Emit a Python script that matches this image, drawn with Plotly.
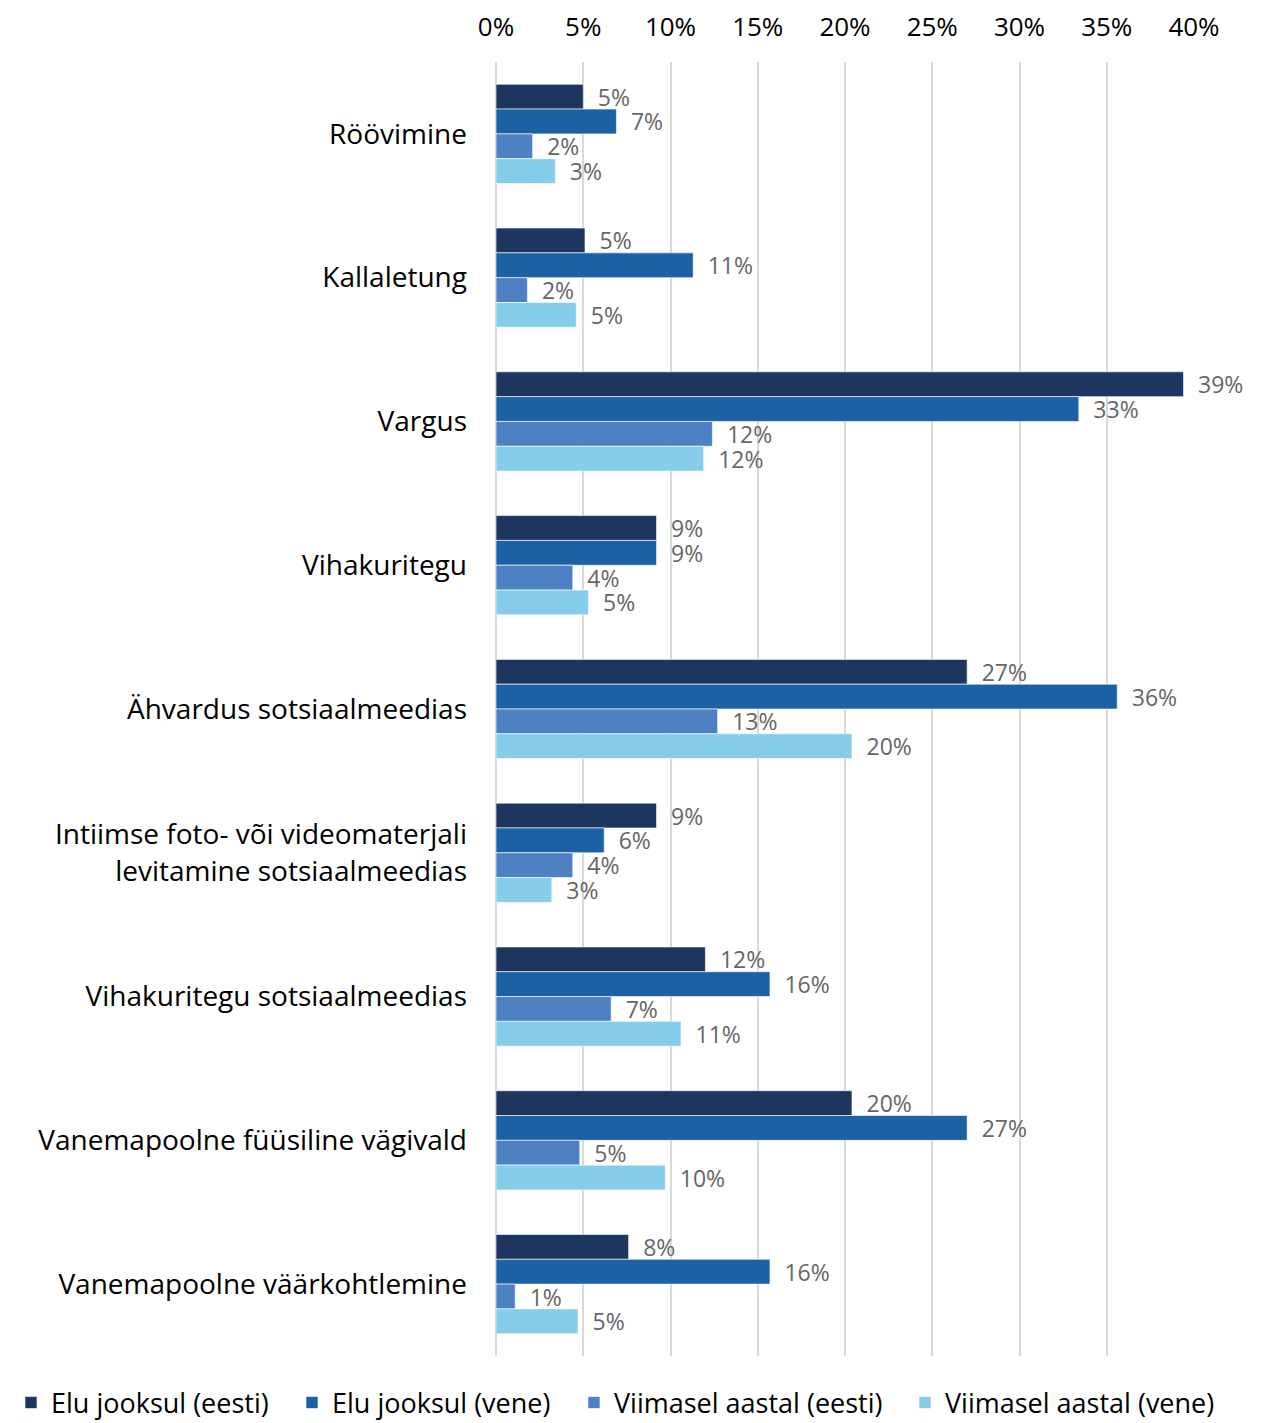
import plotly.graph_objects as go

categories = [
    "Röövimine",
    "Kallaletung",
    "Vargus",
    "Vihakuritegu",
    "Ähvardus sotsiaalmeedias",
    "Intiimse foto- või videomaterjali<br>levitamine sotsiaalmeedias",
    "Vihakuritegu sotsiaalmeedias",
    "Vanemapoolne füüsiline vägivald",
    "Vanemapoolne väärkohtlemine",
]

series_names = [
    "Elu jooksul (eesti)",
    "Elu jooksul (vene)",
    "Viimasel aastal (eesti)",
    "Viimasel aastal (vene)",
]

elu_eesti = [0.050, 0.051, 0.394, 0.092, 0.270, 0.092, 0.120, 0.204, 0.076]
elu_vene = [0.069, 0.113, 0.334, 0.092, 0.356, 0.062, 0.157, 0.270, 0.157]
aasta_eesti = [0.021, 0.018, 0.124, 0.044, 0.127, 0.044, 0.066, 0.048, 0.011]
aasta_vene = [0.034, 0.046, 0.119, 0.053, 0.204, 0.032, 0.106, 0.097, 0.047]

tick_values = [0, 0.05, 0.10, 0.15, 0.20, 0.25, 0.30, 0.35, 0.40]

colors = ["#1c365f", "#1c60a6", "#4e80c4", "#86cdec"]

FONT = "Open Sans, Inter, sans-serif"

# layout geometry (figure pixels)
M_L, M_R, M_T, M_B = 488, 95, 54, 75
PLOT_W = 1281 - M_L - M_R
PLOT_H = 1423 - M_T - M_B

# legend text start positions (figure pixels), one legend per series
legend_text_x = [43, 324, 606, 937]
legend_names = ["legend", "legend2", "legend3", "legend4"]
legend_y = -(47.0 / PLOT_H)

fig = go.Figure()
for name, vals, col, lg in zip(series_names, [elu_eesti, elu_vene, aasta_eesti, aasta_vene], colors, legend_names):
    fig.add_trace(go.Bar(
        y=categories,
        x=vals,
        name=name,
        orientation="h",
        legend=lg,
        marker=dict(color=col, line=dict(color="white", width=0.6)),
        texttemplate="\u2002%{x:.0%}",
        textposition="outside",
        constraintext="none",
        textfont=dict(family=FONT, size=23, color="#666666"),
        cliponaxis=False,
    ))

legend_common = dict(
    orientation="h",
    xanchor="left",
    yanchor="middle",
    y=legend_y,
    font=dict(family=FONT, size=27, color="black"),
    itemwidth=30,
    bgcolor="rgba(0,0,0,0)",
)

legends = {}
for lg, tx in zip(legend_names, legend_text_x):
    legends[lg] = dict(legend_common, x=(tx - 40 - M_L) / PLOT_W)

fig.update_layout(
    width=1281,
    height=1423,
    barmode="group",
    bargap=0.31,
    bargroupgap=0,
    plot_bgcolor="white",
    paper_bgcolor="white",
    margin=dict(l=M_L, r=M_R, t=M_T, b=M_B, autoexpand=False),
    font=dict(family=FONT, color="black"),
    xaxis=dict(
        side="top",
        range=[0, 0.40],
        tickvals=tick_values,
        tickformat=".0%",
        showgrid=True,
        gridcolor="#d9d9d9",
        gridwidth=2,
        zeroline=True,
        zerolinecolor="#d9d9d9",
        zerolinewidth=2,
        showline=False,
        ticks="",
        ticklabelstandoff=20,
        automargin=False,
        tickfont=dict(family=FONT, size=26, color="black"),
    ),
    yaxis=dict(
        autorange="reversed",
        showgrid=False,
        zeroline=False,
        showline=False,
        ticks="",
        ticklabelstandoff=28,
        automargin=False,
        tickfont=dict(family=FONT, size=28, color="black"),
    ),
    showlegend=True,
    **legends,
)

fig.write_html("out.html")
